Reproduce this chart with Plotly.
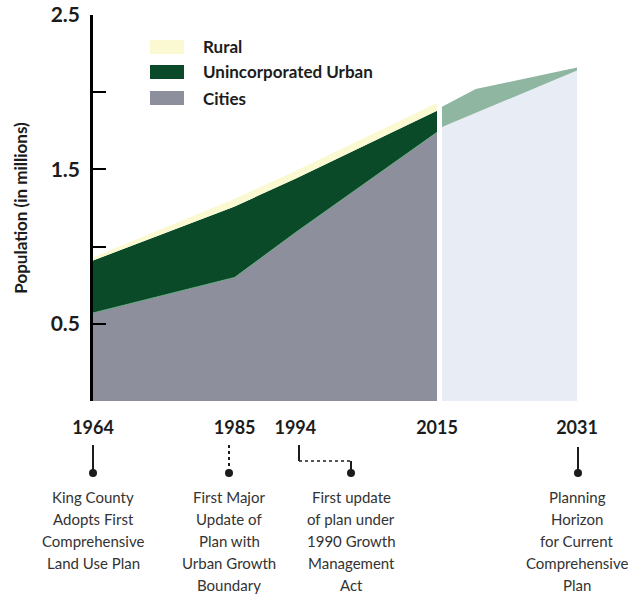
import plotly.graph_objects as go

# Population by area type (millions)
years = [1964, 1985, 1994, 2015]
cities = [0.57, 0.80, 1.09, 1.74]
unincorporated = [0.34, 0.46, 0.35, 0.14]
rural = [0.02, 0.05, 0.05, 0.05]

# Projection to the planning horizon
proj_years = [2015, 2019, 2031]
proj_base = [1.775, 1.866, 2.14]
proj_growth = [0.13, 0.154, 0.02]

y_ticks = [0, 0.5, 1.0, 1.5, 2.0, 2.5]
y_tick_text = ["", "0.5", "", "1.5", "", "2.5"]

hist_tick_years = [1964, 1985, 1994, 2015]
proj_tick_years = [2031]

legend_items = [("Rural", "#fbf9d2"), ("Unincorporated Urban", "#0b4a28"), ("Cities", "#8e8f9d")]

milestone_notes = [
    (93, ["King County", "Adopts First", "Comprehensive", "Land Use Plan"]),
    (229, ["First Major", "Update of", "Plan with", "Urban Growth", "Boundary"]),
    (351, ["First update", "of plan under", "1990 Growth", "Management", "Act"]),
    (577, ["Planning", "Horizon", "for Current", "Comprehensive", "Plan"]),
]

# page geometry
W, H = 636, 596
L, R, T, B = 93, 59, 15, 195
PW, PH = W - L - R, H - T - B


def px(x):
    return (x - L) / PW


def py(y):
    return (H - B - y) / PH


FONT = "Lato"
INK = "#1c1c1c"

fig = go.Figure()

fig.add_trace(go.Scatter(x=years, y=cities, name="Cities", stackgroup="hist",
                         mode="lines", line=dict(width=1, color="#6aa884"),
                         fillcolor="#8e8f9d", xaxis="x", yaxis="y"))
fig.add_trace(go.Scatter(x=years, y=unincorporated, name="Unincorporated Urban", stackgroup="hist",
                         mode="lines", line=dict(width=0, color="#0b4a28"),
                         fillcolor="#0b4a28", xaxis="x", yaxis="y"))
fig.add_trace(go.Scatter(x=years, y=rural, name="Rural", stackgroup="hist",
                         mode="lines", line=dict(width=0, color="#fbf9d2"),
                         fillcolor="#fbf9d2", xaxis="x", yaxis="y"))

fig.add_trace(go.Scatter(x=proj_years, y=proj_base, name="Projected", stackgroup="proj",
                         mode="lines", line=dict(width=0, color="#e8ecf4"),
                         fillcolor="#e8ecf4", xaxis="x2", yaxis="y"))
fig.add_trace(go.Scatter(x=proj_years, y=proj_growth, name="Projected growth", stackgroup="proj",
                         mode="lines", line=dict(width=0, color="#8fb6a1"),
                         fillcolor="#8fb6a1", xaxis="x2", yaxis="y"))

year_font = dict(family=FONT, size=18, color=INK, weight="bold")

fig.update_layout(
    width=W, height=H,
    margin=dict(l=L, r=R, t=T, b=B, autoexpand=False),
    paper_bgcolor="white", plot_bgcolor="white",
    showlegend=False,
    xaxis=dict(domain=[0, px(437)], range=[1964, 2015], showgrid=False, zeroline=False,
               showline=False, ticks="", tickvals=hist_tick_years,
               ticktext=[str(v) for v in hist_tick_years], tickfont=year_font,
               ticklabelstandoff=14, anchor="y", automargin=False),
    xaxis2=dict(domain=[px(442), 1], range=[2015, 2031], showgrid=False, zeroline=False,
                showline=False, ticks="", tickvals=proj_tick_years,
                ticktext=[str(v) for v in proj_tick_years], tickfont=year_font,
                ticklabelstandoff=14, anchor="y", automargin=False),
    yaxis=dict(range=[0, 2.5], showgrid=False, zeroline=False, showline=True,
               linecolor="black", linewidth=2.5, ticks="inside", ticklen=13,
               tickwidth=2, tickcolor="black", tickvals=y_ticks, ticktext=y_tick_text,
               tickfont=dict(family=FONT, size=21, color=INK, weight="bold"),
               ticklabelstandoff=6, automargin=False,
               title=dict(text="Population (in millions)", standoff=19,
                          font=dict(family=FONT, size=17, color=INK, weight="bold"))),
)

# legend swatches and labels
legend_rows = [47, 72, 98]
for (label, color), row in zip(legend_items, legend_rows):
    fig.add_shape(type="rect", xref="paper", yref="paper",
                  x0=px(150), x1=px(184), y0=py(row + 7), y1=py(row - 7),
                  fillcolor=color, line=dict(width=0), layer="above")
    fig.add_annotation(text=label, xref="paper", yref="paper", x=px(201), y=py(row),
                       xanchor="left", yanchor="middle", showarrow=False,
                       font=dict(family=FONT, size=17, color=INK, weight="bold"))

# milestone connectors
conn = dict(color=INK, width=2)
fig.add_shape(type="line", xref="paper", yref="paper", x0=px(93), x1=px(93),
              y0=py(445), y1=py(472), line=conn)
fig.add_shape(type="line", xref="paper", yref="paper", x0=px(229), x1=px(229),
              y0=py(445), y1=py(472), line=dict(color=INK, width=2, dash="dot"))
fig.add_shape(type="line", xref="paper", yref="paper", x0=px(299), x1=px(299),
              y0=py(445), y1=py(461), line=conn)
fig.add_shape(type="line", xref="paper", yref="paper", x0=px(299), x1=px(351),
              y0=py(461), y1=py(461), line=dict(color=INK, width=1.5, dash="dot"))
fig.add_shape(type="line", xref="paper", yref="paper", x0=px(351), x1=px(351),
              y0=py(461), y1=py(472), line=conn)
fig.add_shape(type="line", xref="paper", yref="paper", x0=px(578), x1=px(578),
              y0=py(447), y1=py(472), line=conn)
for cx in [93, 229, 351, 578]:
    fig.add_shape(type="circle", xref="paper", yref="paper",
                  x0=px(cx - 4), x1=px(cx + 4), y0=py(477), y1=py(469),
                  fillcolor=INK, line=dict(width=0))

# milestone descriptions
for cx, lines in milestone_notes:
    for i, line in enumerate(lines):
        fig.add_annotation(text=line, xref="paper", yref="paper", x=px(cx), y=py(497 + 22 * i),
                           xanchor="center", yanchor="middle", showarrow=False,
                           font=dict(family=FONT, size=15, color="#333333"))

fig.write_html("out.html")
